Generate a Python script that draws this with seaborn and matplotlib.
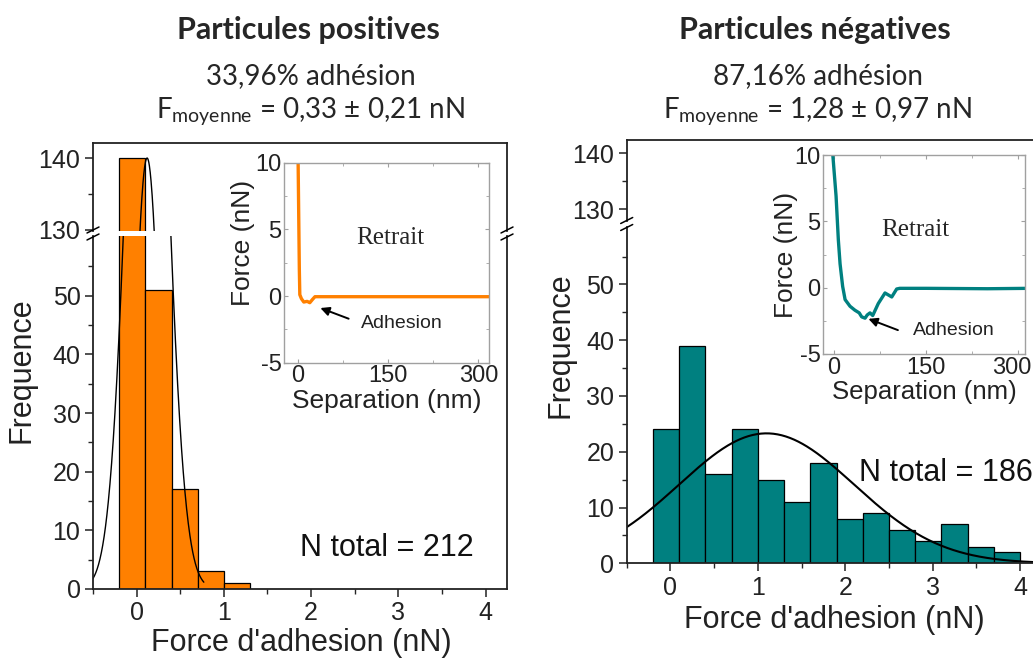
import numpy as np
import matplotlib
matplotlib.use("Agg")
import matplotlib.pyplot as plt
import matplotlib.transforms as mtransforms
import seaborn as sns
from matplotlib.lines import Line2D

# ---------------- data ----------------
pos_edges = [-0.2, 0.1, 0.4, 0.7, 1.0, 1.3]
pos_counts = [140, 51, 17, 3, 1]
neg_edges = [-0.2, 0.1, 0.4, 0.7, 1.0, 1.3, 1.6, 1.9, 2.2, 2.5, 2.8, 3.1, 3.4, 3.7, 4.0]
neg_counts = [24, 39, 16, 24, 15, 11, 18, 8, 9, 6, 4, 7, 3, 2]

# Gaussian fit parameters (mean, sigma, amplitude) and drawn range
pos_fit_mean, pos_fit_sigma, pos_fit_amp = 0.12, 0.21, 140.0
pos_fit_range = (-0.5, 0.77)
neg_fit_mean, neg_fit_sigma, neg_fit_amp = 1.1, 1.0, 23.3
neg_fit_range = (-0.5, 4.25)

x_ticks = [0, 1, 2, 3, 4]
y_ticks_low = [0, 10, 20, 30, 40, 50]
y_ticks_high = [130, 140]

# inset retraction curves (separation nm, force nN)
pos_sep = [0, 1, 2, 2.8, 5.5, 9.4, 15, 19.4, 24, 28, 60, 150, 318]
pos_force = [10, 6, 2, 0.1, -0.2, -0.45, -0.4, -0.5, -0.25, -0.05, -0.05, -0.05, -0.05]
neg_sep = [-2, 3.3, 7, 9.8, 14, 18, 26, 34, 41, 45, 50.5, 54, 58.6, 63, 72, 83, 88.5, 94,
           102, 107, 150, 250, 318]
neg_force = [10, 6.9, 3.6, 1.8, 0.1, -0.9, -1.4, -1.7, -1.9, -2.2, -2.3, -2.06, -1.9, -2.1,
             -1.2, -0.4, -0.55, -0.7, -0.1, -0.05, -0.05, -0.08, -0.05]
inset_xticks = [0, 150, 300]
inset_yticks = [-5, 0, 5, 10]

titles = ["Particules positives", "Particules négatives"]
adhesion_pct = ["33,96% adhésion", "87,16% adhésion"]
mean_force = ["0,33 ± 0,21 nN", "1,28 ± 0,97 nN"]
n_total = ["N total = 212", "N total = 186"]

ORANGE = "#FF8000"
TEAL = "#008080"

# ---------------- style ----------------
sns.set_style("ticks")
plt.rcParams["font.family"] = ["Liberation Sans", "DejaVu Sans"]
plt.rcParams["mathtext.fontset"] = "custom"
plt.rcParams["mathtext.rm"] = "Lato"
plt.rcParams["mathtext.it"] = "Lato:italic"
plt.rcParams["mathtext.bf"] = "Lato:bold"

W, H = 1033, 659
fig = plt.figure(figsize=(W / 100, H / 100), dpi=100)


def px_axes(l, t, r, b):
    return fig.add_axes([l / W, 1 - b / H, (r - l) / W, (b - t) / H])


def fx(x):
    return x / W


def fy(y):
    return 1 - y / H


def draw_break(x, y):
    for dy in (-3.5, 3.5):
        fig.add_artist(Line2D([fx(x - 6), fx(x + 6)], [fy(y + dy + 3), fy(y + dy - 3)],
                              color="black", lw=1.1))


def style_main(ax, lower, show_right=True):
    for s in ax.spines.values():
        s.set_linewidth(1.3)
        s.set_color("#222222")
    ax.spines["right"].set_visible(show_right)
    ax.set_xlim(-0.5, 4.245)
    ax.set_xlabel("")
    ax.set_ylabel("")
    ax.tick_params(axis="both", direction="out", length=6, width=1.1, labelsize=18,
                   colors="#222222", pad=3)
    ax.tick_params(which="minor", direction="out", length=3.5, width=1.0)
    ax.tick_params(top=False, right=False, which="both")
    if lower:
        ax.spines["top"].set_visible(False)
        ax.set_xticks(x_ticks)
        ax.set_xticks(np.arange(-0.5, 4.3, 0.5), minor=True)
        ax.set_yticks(y_ticks_low)
        ax.set_yticks(np.arange(5, 60, 10), minor=True)
    else:
        ax.spines["bottom"].set_visible(False)
        ax.set_xticks([])
        ax.set_xticks([], minor=True)
        ax.set_yticks(y_ticks_high)
        ax.set_yticks([135], minor=True)


def draw_hist(ax, edges, counts, color):
    centers = [(a + b) / 2 for a, b in zip(edges[:-1], edges[1:])]
    sns.histplot(x=centers, weights=counts, bins=edges, ax=ax, color=color,
                 edgecolor="black", linewidth=0.9, alpha=1.0)


def draw_fit(ax, mean, sigma, amp, rng, lw):
    xs = np.linspace(rng[0], rng[1], 400)
    ys = amp * np.exp(-(xs - mean) ** 2 / (2 * sigma ** 2))
    sns.lineplot(x=xs, y=ys, ax=ax, color="black", lw=lw)


def style_inset(ax, xlim, xlab_size, ylab_xy):
    ax.set_facecolor("white")
    ax.set_xlim(*xlim)
    ax.set_ylim(-5, 10)
    for s in ax.spines.values():
        s.set_visible(True)
        s.set_color("#a0a0a0")
        s.set_linewidth(1.0)
    ax.set_xticks(inset_xticks)
    ax.set_xticks([75, 225], minor=True)
    ax.set_yticks(inset_yticks)
    ax.set_yticks([-2.5, 2.5, 7.5], minor=True)
    ax.set_yticklabels([str(v) for v in inset_yticks])
    ax.tick_params(which="both", direction="in", top=True, right=True, color="#a0a0a0",
                   labelsize=17, labelcolor="#222222", pad=2)
    ax.tick_params(which="major", length=3)
    ax.tick_params(which="minor", length=2)
    ax.set_xlabel("Separation (nm)", fontsize=xlab_size, labelpad=1, color="#222222")
    ax.set_ylabel("Force (nN)", fontsize=19, labelpad=-1, color="#222222")
    ax.yaxis.set_label_coords(*ylab_xy)


def arrow(ax, head, tail):
    ax.annotate("", xy=head, xytext=tail,
                arrowprops=dict(arrowstyle="-|>", color="black", lw=1.4,
                                shrinkA=0, shrinkB=0, mutation_scale=13))


# ---------------- left panel ----------------
lowL = px_axes(93, 236, 507, 589)
upL = px_axes(93, 143, 507, 231)
for ax in (lowL, upL):
    draw_hist(ax, pos_edges, pos_counts, ORANGE)
    draw_fit(ax, pos_fit_mean, pos_fit_sigma, pos_fit_amp, pos_fit_range, 1.0)
lowL.set_ylim(0, 60.2)
upL.set_ylim(129.8, 142.1)
style_main(lowL, True)
style_main(upL, False)
draw_break(93, 233.5)
draw_break(507, 233.5)
lowL.text(1.87, 7, n_total[0], fontsize=22, ha="left", va="center", color="#111111")

# ---------------- right panel ----------------
lowR = px_axes(626.7, 227, 1041.5, 563.3)
upR = px_axes(626.7, 140, 1041.5, 221)
for ax in (lowR, upR):
    draw_hist(ax, neg_edges, neg_counts, TEAL)
    draw_fit(ax, neg_fit_mean, neg_fit_sigma, neg_fit_amp, neg_fit_range, 1.5)
lowR.set_ylim(0, 60.3)
upR.set_ylim(127.9, 142.4)
style_main(lowR, True)
style_main(upR, False)
draw_break(626.7, 224)
lowR.text(2.16, 16.2, n_total[1], fontsize=22, ha="left", va="center", color="#111111")

# ---------------- axis labels ----------------
fig.text(fx(22), fy(370), "Frequence", rotation=90, fontsize=22, ha="center", va="center",
         color="#222222")
fig.text(fx(560), fy(345), "Frequence", rotation=90, fontsize=22, ha="center", va="center",
         color="#222222")
fig.text(fx(301), fy(643), "Force d'adhesion (nN)", fontsize=22, ha="center", va="center",
         color="#222222")
fig.text(fx(834), fy(620), "Force d'adhesion (nN)", fontsize=22, ha="center", va="center",
         color="#222222")

# ---------------- titles ----------------
for cx, t, a, m in zip([308, 815], titles, adhesion_pct, mean_force):
    fig.text(fx(cx), fy(30), t, fontsize=22, fontweight="bold", family="Lato",
             ha="center", va="center")
    fig.text(fx(cx + 3), fy(76), a, fontsize=20, family="Lato", ha="center", va="center")
    fig.text(fx(cx + 2), fy(111), r"F$_{\mathrm{moyenne}}$ = " + m, fontsize=20,
             family="Lato", ha="center", va="center")

# ---------------- insets ----------------
insL = px_axes(284.3, 162.7, 489.3, 362.7)
sns.lineplot(x=pos_sep, y=pos_force, ax=insL, color=ORANGE, lw=2.4, sort=False)
style_inset(insL, (-23, 318), 19, (-0.145, 0.6))
insL.text(153, 4.35, "Retrait", family="Liberation Serif", fontsize=18,
          ha="center", va="center")
insL.text(105, -2.05, "Adhesion", fontsize=14, ha="left", va="center", color="#222222")
arrow(insL, (37, -0.9), (84, -1.7))

insR = px_axes(823.3, 155, 1025, 354)
sns.lineplot(x=neg_sep, y=neg_force, ax=insR, color=TEAL, lw=2.4, sort=False)
style_inset(insR, (-17.5, 311), 18.5, (-0.125, 0.5))
insR.text(132, 4.35, "Retrait", family="Liberation Serif", fontsize=18,
          ha="center", va="center")
insR.text(129, -3.2, "Adhesion", fontsize=14, ha="left", va="center", color="#222222")
arrow(insR, (56, -2.35), (104, -3.2))
# keep the last x tick label inside the figure
last = insR.get_xticklabels()[-1]
last.set_transform(last.get_transform() +
                   mtransforms.ScaledTranslation(-6 / 100, 0, fig.dpi_scale_trans))

fig.savefig("out.png", dpi=100)
